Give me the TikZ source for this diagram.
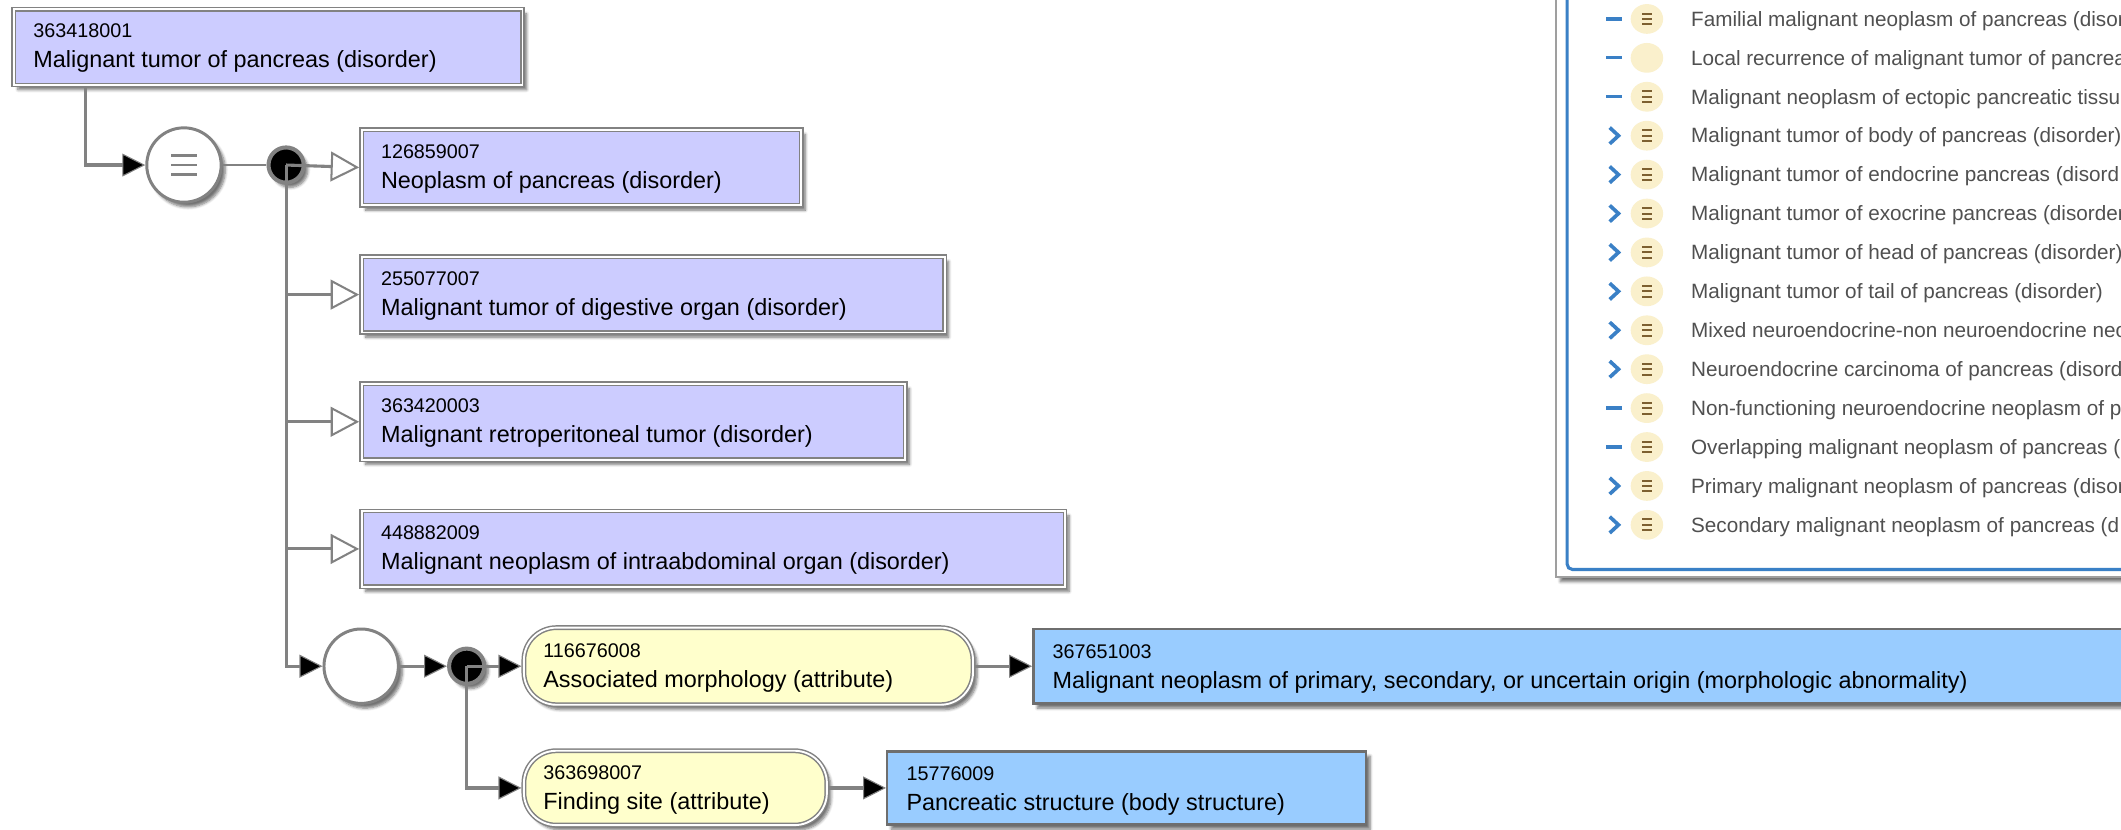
\documentclass[tikz,border=0pt]{standalone}
\usepackage{fontspec}
\setmainfont{Liberation Sans}
\usetikzlibrary{arrows.meta,shadows.blur,calc}

\definecolor{lav}{HTML}{CCCCFF}
\definecolor{sky}{HTML}{99CCFF}
\definecolor{cream}{HTML}{FFFFCC}
\definecolor{edge}{HTML}{828282}
\definecolor{darkedge}{HTML}{6E6E6E}
\definecolor{panelblue}{HTML}{3A80C6}
\definecolor{blob}{HTML}{FAF0CC}
\definecolor{glyph}{HTML}{7D6030}
\definecolor{listtext}{HTML}{505050}

\tikzset{
  softshadow/.style={blur shadow={shadow xshift=3pt, shadow yshift=-3.5pt,
      shadow blur steps=6, shadow opacity=55}},
  concept/.style={draw=edge, line width=1.1pt, double=white, double distance=1.4pt,
      fill=lav, rectangle, inner sep=0pt, outer sep=1.8pt, anchor=north west,
      minimum height=56pt, softshadow},
  attrpill/.style={concept, fill=cream, rounded corners=24pt, anchor=west},
  target/.style={draw=darkedge, line width=1.8pt, fill=sky, rectangle, inner sep=0pt,
      outer sep=0.9pt, anchor=west, minimum height=55pt, softshadow},
  operator/.style={circle, draw=edge, line width=2.2pt, fill=white, minimum size=55pt,
      inner sep=0pt, outer sep=1.1pt, softshadow},
  junction/.style={circle, draw=edge, line width=3pt, fill=black, minimum size=26pt,
      inner sep=0pt, outer sep=1.5pt, softshadow},
  conn/.style={draw=edge, line width=2.3pt},
  isa/.style={conn, -{Triangle[length=21pt, width=22pt, fill=white, line width=1.5pt]}},
  rel/.style={conn, -{Triangle[length=17pt, width=17pt, fill=black, line width=0.8pt]}},
  idtext/.style={font=\fontsize{14.6}{16}\selectfont, anchor=base west, inner sep=0pt},
  nametext/.style={font=\fontsize{17.3}{20}\selectfont, anchor=base west, inner sep=0pt},
  rowtext/.style={font=\fontsize{15.3}{18}\selectfont, text=listtext, anchor=base west, inner sep=0pt},
}

\begin{document}
\begin{tikzpicture}[x=1pt, y=-1pt]
\useasboundingbox (0,0) rectangle (1568,613);
\begin{scope}
\clip (0,0) rectangle (1568,613);

% ---------- list panel of subtypes ----------
\draw[draw=gray!75, line width=1.3pt, fill=white, softshadow]
  (1150.5,-20) rectangle (1600,426.5);
\draw[panelblue, line width=2.3pt, rounded corners=4pt]
  (1158.5,-20) rectangle (1600,421);

\foreach \k/\ic/\gl/\txt in {
  0/m/1/{Familial malignant neoplasm of pancreas (disor},
  1/m/0/{Local recurrence of malignant tumor of pancrea},
  2/m/1/{Malignant neoplasm of ectopic pancreatic tissu},
  3/c/1/{Malignant tumor of body of pancreas (disorder)},
  4/c/1/{Malignant tumor of endocrine pancreas (disord},
  5/c/1/{Malignant tumor of exocrine pancreas (disorder},
  6/c/1/{Malignant tumor of head of pancreas (disorder)},
  7/c/1/{Malignant tumor of tail of pancreas (disorder)},
  8/c/1/{Mixed neuroendocrine-non neuroendocrine neo},
  9/c/1/{Neuroendocrine carcinoma of pancreas (disord},
  10/m/1/{Non-functioning neuroendocrine neoplasm of p},
  11/m/1/{Overlapping malignant neoplasm of pancreas (},
  12/c/1/{Primary malignant neoplasm of pancreas (disor},
  13/c/1/{Secondary malignant neoplasm of pancreas (d}%
}{
  \pgfmathsetmacro\yy{14+28.77*\k}
  \if m\ic
    \draw[panelblue, line width=2.4pt] (1187.5,\yy) -- (1199,\yy);
  \else
    \draw[panelblue, line width=2.7pt, line join=miter, miter limit=3]
      (1190,\yy-6) -- (1196.5,\yy) -- (1190,\yy+6);
  \fi
  \fill[blob] (1217.5,\yy) ellipse [x radius=12pt, y radius=11pt];
  \if 1\gl
    \foreach \dy in {-4,0,4}
      \draw[glyph, line width=1.5pt] (1214,\yy+\dy) -- (1221,\yy+\dy);
  \fi
  \node[rowtext] (row\k) at (1250,\yy+5.4) {\txt};
}

% ---------- concept nodes ----------
\node[concept, minimum width=376pt, minimum height=56pt] (root) at (8.5,5) {};
\node[idtext]   (rootid)   at ($(root.north west)+(16,23)$) {363418001};
\node[nametext] (rootname) at ($(root.north west)+(16,45)$) {Malignant tumor of pancreas (disorder)};

\node[operator] (eq) at (136,122) {};
\foreach \dy in {-6.8,0,6.8}
  \draw[edge, line width=2.1pt] ($(eq.center)+(-9.5,\dy)$) -- ++(19,0);

\node[junction] (d1) at (211.5,122) {};

\node[concept, minimum width=325pt] (b2) at (265.5,94) {};
\node[idtext]   (b2id)   at ($(b2.north west)+(16,23)$) {126859007};
\node[nametext] (b2name) at ($(b2.north west)+(16,45)$) {Neoplasm of pancreas (disorder)};

\node[concept, minimum width=431pt] (b3) at (265.5,188) {};
\node[idtext]   (b3id)   at ($(b3.north west)+(16,23)$) {255077007};
\node[nametext] (b3name) at ($(b3.north west)+(16,45)$) {Malignant tumor of digestive organ (disorder)};

\node[concept, minimum width=402pt] (b4) at (265.5,282) {};
\node[idtext]   (b4id)   at ($(b4.north west)+(16,23)$) {363420003};
\node[nametext] (b4name) at ($(b4.north west)+(16,45)$) {Malignant retroperitoneal tumor (disorder)};

\node[concept, minimum width=520pt] (b5) at (265.5,376) {};
\node[idtext]   (b5id)   at ($(b5.north west)+(16,23)$) {448882009};
\node[nametext] (b5name) at ($(b5.north west)+(16,45)$) {Malignant neoplasm of intraabdominal organ (disorder)};

\node[operator] (c2) at (267,492.5) {};
\node[junction] (d2) at (345,492.5) {};

\node[attrpill, minimum width=332pt, minimum height=57pt] (p1) at (385.5,492.5) {};
\node[idtext]   (p1id)   at ($(p1.north west)+(16,24)$) {116676008};
\node[nametext] (p1name) at ($(p1.north west)+(16,46)$) {Associated morphology (attribute)};

\node[attrpill, minimum width=224pt, minimum height=55pt] (p2) at (385.5,582.5) {};
\node[idtext]   (p2id)   at ($(p2.north west)+(16,23)$) {363698007};
\node[nametext] (p2name) at ($(p2.north west)+(16,45)$) {Finding site (attribute)};

\node[target, minimum width=840pt] (m1) at (763,492.5) {};
\node[idtext]   (m1id)   at ($(m1.north west)+(15,23)$) {367651003};
\node[nametext] (m1name) at ($(m1.north west)+(15,45)$) {Malignant neoplasm of primary, secondary, or uncertain origin (morphologic abnormality)};

\node[target, minimum width=354pt, minimum height=54pt] (m2) at (655,582.5) {};
\node[idtext]   (m2id)   at ($(m2.north west)+(15,22.5)$) {15776009};
\node[nametext] (m2name) at ($(m2.north west)+(15,44.5)$) {Pancreatic structure (body structure)};

% ---------- connectors ----------
\draw[rel] ($(root.south west)+(54.5,0)$) |- (eq.west);
\draw[conn, line width=1.6pt] (eq.east) -- (d1.west);
\draw[isa] (d1.center) -- (b2.west);
\draw[isa] (d1.center) |- (b3.west);
\draw[isa] (d1.center) |- (b4.west);
\draw[isa] (d1.center) |- (b5.west);
\draw[rel] (d1.center) |- (c2.west);
\draw[rel] (c2.east) -- (d2.west);
\draw[rel] (d2.center) -- (p1.west);
\draw[rel] (d2.center) |- (p2.west);
\draw[rel] (p1.east) -- (m1.west);
\draw[rel] (p2.east) -- (m2.west);
\end{scope}
\end{tikzpicture}
\end{document}
